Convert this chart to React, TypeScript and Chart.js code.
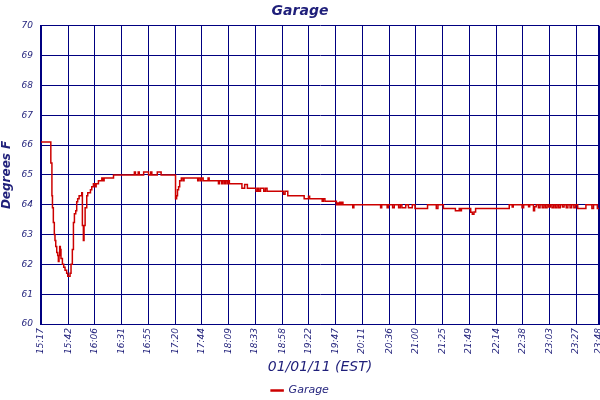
import { useEffect, useRef } from 'react';
import { Chart, registerables } from 'chart.js';

Chart.register(...registerables);

// minutes after 15:17 where the reading changes, and the new reading
const sampleMinutes = [
  0, 9, 10, 10.5, 11.3, 12.2, 12.8, 13.5, 14.4, 15.3, 15.9, 16.5, 17.1, 17.7, 18.3, 19.6,
  20.8, 22, 23.5, 24.5, 26.6, 27.5, 28.7, 29.7, 30.6, 31.8, 32.7, 33.6, 34.9, 37.3, 37.9,
  38.8, 39.4, 40.4, 41.9, 42.8, 45.3, 46.5, 48, 49.5, 50.5, 52.6, 55.7, 56.9, 57.8, 66.4,
  85.5, 86.5, 89, 90, 94, 98.5, 100.5, 101.5, 106.5, 110,
  123.2, 124.2, 125, 126, 127, 128.5, 130, 131, 143.5, 144.5, 146, 147, 148.5, 153, 154,
  162.5, 163.5, 165.5, 166.5, 168, 169, 170.5, 171.5, 172.5, 184, 186.5, 189,
  197, 198.5, 199.5, 201, 204, 205.5, 207, 222, 223.5, 226, 241, 245, 246,
  257.5, 258.5, 260, 270.5, 271.5, 272.5, 273.5, 274.5, 275.5, 276.5, 285.5, 286.5,
  311, 312, 317, 318, 322, 323.5, 327.5, 329, 330.5, 334, 336.5, 340, 342.5, 354,
  362, 363.5, 368.5, 379.5, 383, 384, 385, 393.5, 395, 396.5, 398,
  428.8, 431.5, 432.5, 440.5, 442, 446.5, 447.5, 451, 452, 453.5, 455.5, 457, 459, 460.5,
  462, 463.5, 465, 466.5, 468, 469.5, 471, 472.5, 474, 475.5, 477.5, 479, 481, 482.5,
  484.5, 486, 488, 489.5, 491.5, 499, 504.5, 506, 509.5, 511,
];
const garageTemps = [
  66.1, 65.4, 64.3, 63.9, 63.4, 63.0, 62.8, 62.6, 62.4, 62.3, 62.1, 62.3, 62.6, 62.5, 62.2, 62.0,
  61.9, 61.8, 61.7, 61.6, 61.7, 62.0, 62.5, 63.4, 63.7, 63.8, 64.1, 64.2, 64.3, 64.4, 63.3,
  62.8, 63.3, 63.9, 64.3, 64.4, 64.5, 64.6, 64.7, 64.6, 64.7, 64.8, 64.9, 64.8, 64.9, 65.0,
  65.1, 65.0, 65.1, 65.0, 65.1, 65.0, 65.1, 65.0, 65.1, 65.0,
  64.2, 64.3, 64.5, 64.6, 64.8, 64.9, 64.8, 64.9, 64.8, 64.9, 64.8, 64.9, 64.8, 64.9, 64.8,
  64.7, 64.8, 64.7, 64.8, 64.7, 64.8, 64.7, 64.8, 64.7, 64.55, 64.68, 64.55,
  64.45, 64.55, 64.45, 64.55, 64.45, 64.55, 64.45, 64.35, 64.45, 64.3, 64.2, 64.28, 64.2,
  64.12, 64.2, 64.12, 64.0, 64.06, 64.0, 64.08, 64.0, 64.08, 64.0, 63.9, 64.0,
  63.9, 64.0, 63.9, 64.0, 63.9, 64.0, 63.9, 64.0, 63.9, 64.0, 63.9, 64.0, 63.87, 64.0,
  63.87, 64.0, 63.87, 63.8, 63.87, 63.8, 63.87, 63.75, 63.68, 63.76, 63.87,
  64.0, 63.92, 64.0, 63.9, 64.0, 63.93, 64.0, 63.8, 63.93, 64.0, 63.9, 64.0, 63.9, 64.0,
  63.9, 64.0, 63.92, 64.0, 63.9, 64.0, 63.9, 64.0, 63.9, 64.0, 63.92, 64.0, 63.9, 64.0,
  63.9, 64.0, 63.9, 64.0, 63.87, 64.0, 63.87, 64.0, 63.87, 63.87,
];

const tickMinutes = [0, 25, 49, 74, 98, 123, 147, 172, 196, 221, 245, 270, 294, 319, 343, 368, 392, 417, 441, 466, 490, 511];
const tickLabels = [
  '15:17', '15:42', '16:06', '16:31', '16:55', '17:20', '17:44', '18:09', '18:33', '18:58', '19:22',
  '19:47', '20:11', '20:36', '21:00', '21:25', '21:49', '22:14', '22:38', '23:03', '23:27', '23:48',
];

const NAVY = '#000080';
const TEXT = '#1f1f7a';
const FONT = "'DejaVu Sans', Verdana, sans-serif";

export default function App(): JSX.Element {
  const canvasRef = useRef<HTMLCanvasElement>(null);

  useEffect(() => {
    if (!canvasRef.current) return;
    const points = sampleMinutes.map((m, i) => ({ x: m, y: garageTemps[i] }));
    const lastTick = tickMinutes.length - 1;

    const chart = new Chart(canvasRef.current, {
      type: 'line',
      data: {
        datasets: [
          {
            label: 'Garage',
            data: points,
            borderColor: '#cc0000',
            backgroundColor: '#cc0000',
            borderWidth: 1.5,
            pointRadius: 0,
            stepped: true,
          },
        ],
      },
      options: {
        animation: false,
        responsive: true,
        maintainAspectRatio: false,
        layout: { padding: { top: 0, left: 0, right: 0, bottom: -6 } },
        plugins: {
          title: {
            display: true,
            text: 'Garage',
            color: TEXT,
            font: { family: FONT, size: 14, weight: 'bold', style: 'italic' },
            padding: { top: 3, bottom: 6 },
          },
          legend: {
            position: 'bottom',
            labels: {
              color: TEXT,
              font: { family: FONT, size: 11, style: 'italic' },
              boxWidth: 12,
              boxHeight: 1,
              padding: 5,
            },
          },
          tooltip: { enabled: false },
        },
        scales: {
          x: {
            type: 'linear',
            min: 0,
            max: 511,
            afterBuildTicks: scale => {
              scale.ticks = tickMinutes.map(value => ({ value }));
            },
            afterFit: scale => {
              scale.height = 56;
              scale.paddingRight = 1;
            },
            ticks: {
              autoSkip: false,
              minRotation: 90,
              maxRotation: 90,
              padding: 4,
              color: TEXT,
              font: { family: FONT, size: 9, style: 'italic' },
              callback: (_v, i) => tickLabels[i],
            },
            grid: {
              color: NAVY,
              lineWidth: ctx => (ctx.index === lastTick ? 2.5 : 1),
              drawTicks: false,
            },
            border: { color: NAVY, width: 1 },
            title: {
              display: true,
              text: '01/01/11 (EST)',
              color: TEXT,
              font: { family: FONT, size: 14, style: 'italic' },
              padding: { top: 2, bottom: 4 },
            },
          },
          y: {
            min: 60,
            max: 70,
            afterFit: scale => {
              scale.width = 41;
            },
            ticks: {
              stepSize: 1,
              padding: 8,
              color: TEXT,
              font: { family: FONT, size: 9, style: 'italic' },
            },
            grid: { color: NAVY, lineWidth: 1, drawTicks: false },
            border: { color: NAVY, width: 2 },
            title: {
              display: true,
              text: 'Degrees F',
              color: TEXT,
              font: { family: FONT, size: 12, weight: 'bold', style: 'italic' },
              padding: 0,
            },
          },
        },
      },
    });

    return () => { chart.destroy(); };
  }, []);

  return (
    <div style={{ position: 'fixed', left: 0, top: 0, width: '600px', height: '400px', background: '#fff' }}>
      <canvas ref={canvasRef} role="img" aria-label="Garage temperature, degrees F, 01/01/11" />
    </div>
  );
}
